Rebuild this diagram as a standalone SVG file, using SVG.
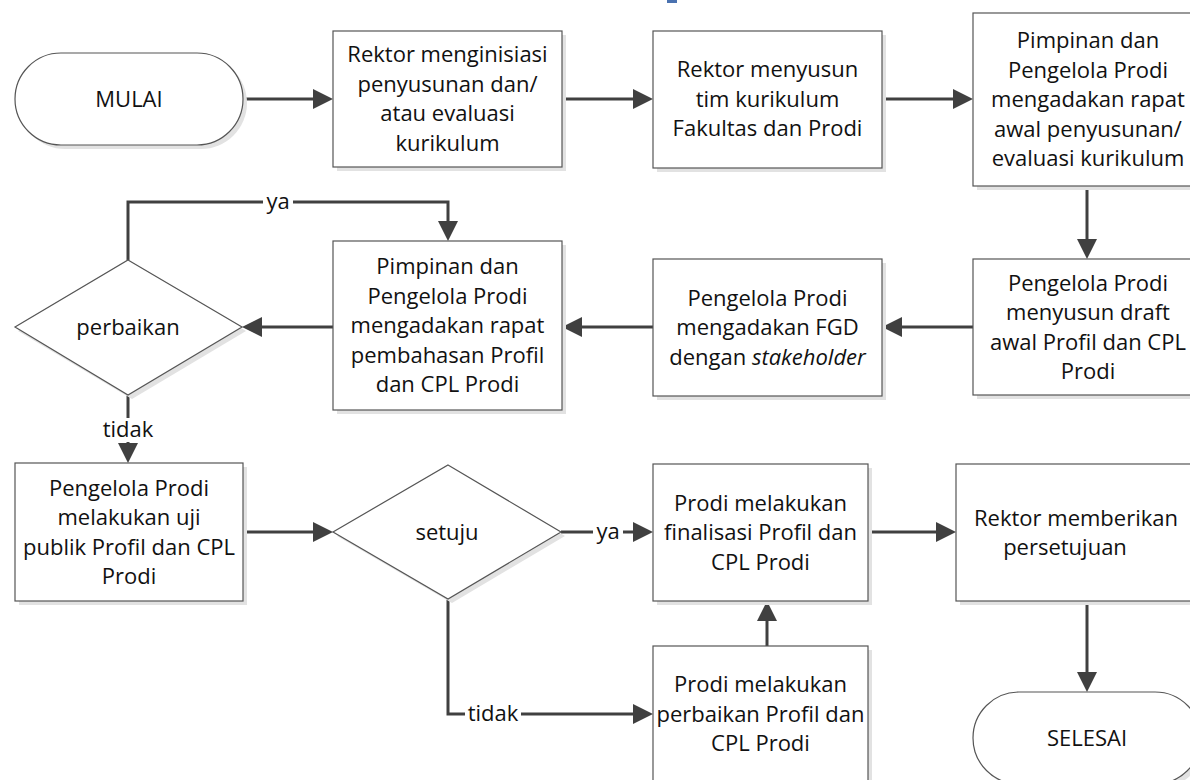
<svg xmlns="http://www.w3.org/2000/svg" width="1190" height="780" viewBox="0 0 1190 780">
<defs>
<marker id="ah" markerWidth="20" markerHeight="20" refX="10" refY="10" orient="auto" markerUnits="userSpaceOnUse">
<path d="M0,0 L20,10 L0,20 z" fill="#404040"/>
</marker>
</defs>
<style>
.box{fill:#fff;stroke:#555;stroke-width:1.2}
.sh{fill:#e2e2e2;stroke:none}
.t{font-family:"Open Sans","Liberation Sans",sans-serif;font-size:22px;fill:#111;text-anchor:middle}
.c{fill:none;stroke:#404040;stroke-width:3;marker-end:url(#ah)}
.lb{fill:#fff;stroke:none}
</style>
<rect x="667" y="0" width="10" height="3" fill="#4a72b0"/>
<g id="connectors">
<path class="c" d="M243,99 H323"/>
<path class="c" d="M562,99 H643"/>
<path class="c" d="M882,99 H963"/>
<path class="c" d="M1087,186 V249"/>
<path class="c" d="M973,327 H892"/>
<path class="c" d="M653,327 H572"/>
<path class="c" d="M333,327 H252"/>
<path class="c" d="M128,260 V202 H448 V231"/>
<path class="c" d="M128,395 V453"/>
<path class="c" d="M243,532 H323"/>
<path class="c" d="M561,532 H643"/>
<path class="c" d="M448,599 V714 H643"/>
<path class="c" d="M767,646 V611"/>
<path class="c" d="M868,532 H946"/>
<path class="c" d="M1087,601 V682"/>
<rect class="lb" x="263" y="190" width="30" height="22"/>
<text class="t" x="278" y="209">ya</text>
<rect class="lb" x="100" y="418" width="56" height="24"/>
<text class="t" x="128" y="437">tidak</text>
<rect class="lb" x="593" y="520" width="30" height="22"/>
<text class="t" x="608" y="539">ya</text>
<rect class="lb" x="465" y="702" width="56" height="24"/>
<text class="t" x="493" y="721">tidak</text>
</g>
<g id="mulai">
<rect class="sh" x="19" y="57" width="228" height="92" rx="46"/>
<rect class="box" x="15" y="53" width="228" height="92" rx="46"/>
<text class="t" x="129" y="107">MULAI</text>
</g>
<g id="box1">
<rect class="sh" x="337" y="35" width="229" height="136"/>
<rect class="box" x="333" y="31" width="229" height="136"/>
<text class="t" x="447.5" y="62">Rektor menginisiasi</text>
<text class="t" x="447.5" y="91.5">penyusunan dan/</text>
<text class="t" x="447.5" y="121">atau evaluasi</text>
<text class="t" x="447.5" y="150.5">kurikulum</text>
</g>
<g id="box2">
<rect class="sh" x="657" y="35" width="229" height="137"/>
<rect class="box" x="653" y="31" width="229" height="137"/>
<text class="t" x="767.5" y="77">Rektor menyusun</text>
<text class="t" x="767.5" y="106.5">tim kurikulum</text>
<text class="t" x="767.5" y="136">Fakultas dan Prodi</text>
</g>
<g id="box3">
<rect class="sh" x="977" y="17" width="230" height="173"/>
<rect class="box" x="973" y="13" width="230" height="173"/>
<text class="t" x="1088" y="48">Pimpinan dan</text>
<text class="t" x="1088" y="77.5">Pengelola Prodi</text>
<text class="t" x="1088" y="107">mengadakan rapat</text>
<text class="t" x="1088" y="136.5">awal penyusunan/</text>
<text class="t" x="1088" y="166">evaluasi kurikulum</text>
</g>
<g id="box4">
<rect class="sh" x="977" y="263" width="230" height="136"/>
<rect class="box" x="973" y="259" width="230" height="136"/>
<text class="t" x="1088" y="290.5">Pengelola Prodi</text>
<text class="t" x="1088" y="320">menyusun draft</text>
<text class="t" x="1088" y="349.5">awal Profil dan CPL</text>
<text class="t" x="1088" y="379">Prodi</text>
</g>
<g id="box5">
<rect class="sh" x="657" y="263" width="229" height="137"/>
<rect class="box" x="653" y="259" width="229" height="137"/>
<text class="t" x="767.5" y="305.5">Pengelola Prodi</text>
<text class="t" x="767.5" y="335">mengadakan FGD</text>
<text class="t" x="767.5" y="364.5">dengan <tspan font-style="italic">stakeholder</tspan></text>
</g>
<g id="box6">
<rect class="sh" x="337" y="245" width="229" height="169"/>
<rect class="box" x="333" y="241" width="229" height="169"/>
<text class="t" x="447.5" y="274">Pimpinan dan</text>
<text class="t" x="447.5" y="303.5">Pengelola Prodi</text>
<text class="t" x="447.5" y="333">mengadakan rapat</text>
<text class="t" x="447.5" y="362.5">pembahasan Profil</text>
<text class="t" x="447.5" y="392">dan CPL Prodi</text>
</g>
<g id="perbaikan">
<polygon class="sh" points="132,264 246,331 132,399 18,331"/>
<polygon class="box" points="128,260 242,327 128,395 15,327"/>
<text class="t" x="128" y="335">perbaikan</text>
</g>
<g id="box7">
<rect class="sh" x="19" y="467" width="228" height="138"/>
<rect class="box" x="15" y="463" width="228" height="138"/>
<text class="t" x="129" y="495.5">Pengelola Prodi</text>
<text class="t" x="129" y="525">melakukan uji</text>
<text class="t" x="129" y="554.5">publik Profil dan CPL</text>
<text class="t" x="129" y="584">Prodi</text>
</g>
<g id="setuju">
<polygon class="sh" points="452,469 565,536 452,603 337,536"/>
<polygon class="box" points="448,465 561,532 448,599 333,532"/>
<text class="t" x="447" y="540">setuju</text>
</g>
<g id="box8">
<rect class="sh" x="657" y="468" width="215" height="137"/>
<rect class="box" x="653" y="464" width="215" height="137"/>
<text class="t" x="760.5" y="510.5">Prodi melakukan</text>
<text class="t" x="760.5" y="540">finalisasi Profil dan</text>
<text class="t" x="760.5" y="569.5">CPL Prodi</text>
</g>
<g id="box9">
<rect class="sh" x="960" y="468" width="262" height="137"/>
<rect class="box" x="956" y="464" width="262" height="137"/>
<text class="t" x="1076" y="525.5">Rektor memberikan</text>
<text class="t" x="1065" y="555">persetujuan</text>
</g>
<g id="box10">
<rect class="sh" x="657" y="650" width="215" height="136"/>
<rect class="box" x="653" y="646" width="215" height="136"/>
<text class="t" x="760.5" y="692">Prodi melakukan</text>
<text class="t" x="760.5" y="721.5">perbaikan Profil dan</text>
<text class="t" x="760.5" y="751">CPL Prodi</text>
</g>
<g id="selesai">
<rect class="sh" x="977" y="696" width="228" height="92" rx="46"/>
<rect class="box" x="973" y="692" width="228" height="92" rx="46"/>
<text class="t" x="1087" y="746">SELESAI</text>
</g>
</svg>
